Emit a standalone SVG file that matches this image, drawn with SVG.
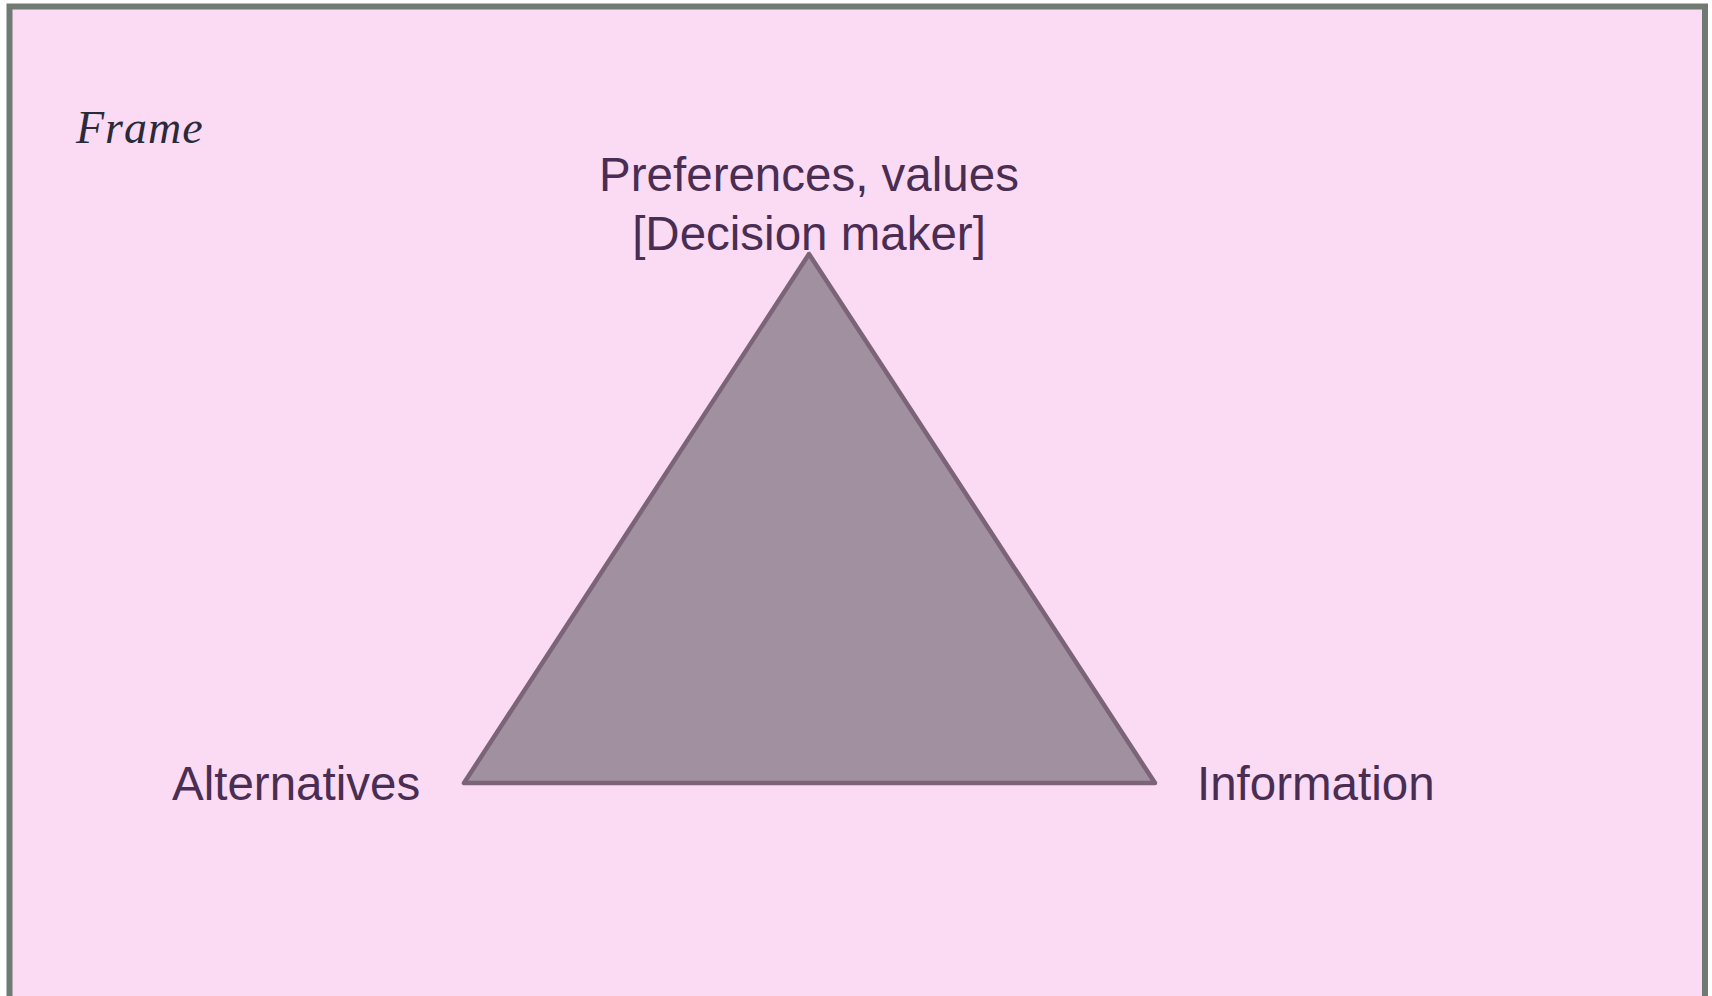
<svg xmlns="http://www.w3.org/2000/svg" width="1712" height="996" viewBox="0 0 1712 996">
<style>
.lbl{font-family:"Liberation Sans",Arial,sans-serif;font-size:47.5px;fill:#4A2D52}
.frame-title{font-family:"Liberation Serif","Times New Roman",serif;font-style:italic;font-size:46px;letter-spacing:1px;fill:#2A2A38}
</style>
<rect width="1712" height="996" fill="#FFFFFF"/>
<g id="frame">
<rect x="9.5" y="6.5" width="1695.5" height="1000" fill="#FADBF3" stroke="#6F7A72" stroke-width="6"/>
<text class="frame-title" x="76" y="143">Frame</text>
</g>
<g id="triangle">
<polygon points="809,254 464,783 1155,783" fill="#A1909F" stroke="#7B6478" stroke-width="4.5" stroke-linejoin="round"/>
</g>
<g id="preferences">
<text class="lbl" x="809" y="191" text-anchor="middle">Preferences, values</text>
<text class="lbl" x="809" y="250" text-anchor="middle">[Decision maker]</text>
</g>
<g id="alternatives">
<text class="lbl" x="172" y="800">Alternatives</text>
</g>
<g id="information">
<text class="lbl" x="1197" y="800">Information</text>
</g>
<g id="connectors"></g>
</svg>
